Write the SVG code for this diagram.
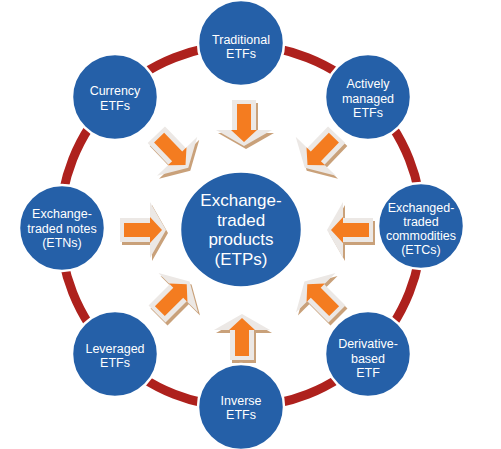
<svg xmlns="http://www.w3.org/2000/svg" xmlns:xlink="http://www.w3.org/1999/xlink" width="501" height="449" viewBox="0 0 501 449">
<style>
.node{fill:#2560A8;stroke:#ffffff;stroke-width:2.5}
.t{fill:#ffffff;font-family:"Liberation Sans",Arial,sans-serif;font-size:12.5px;text-anchor:middle}
.tc{fill:#ffffff;font-family:"Liberation Sans",Arial,sans-serif;font-size:17px;text-anchor:middle}
.ring{fill:none;stroke:#AE211D;stroke-width:9}
</style>
<defs>
<path id="arTan" d="M-24,-12 H6 V-28 L22,0 L6,28 V12 H-24 Z" fill="#C9A17A"/>
<path id="arGrey" d="M-24,-12 H6 V-28 L22,0 L6,28 V12 H-24 Z" fill="#ECE8E5"/>
<path id="arOr" d="M-20,-7 H6 V-13 L18,0 L6,13 V7 H-20 Z" fill="#F47C20"/>
</defs>
<rect width="501" height="449" fill="#ffffff"/>
<g id="connectors">
<circle class="ring" cx="241" cy="226" r="181"/>
<g transform="translate(244,124)"><use xlink:href="#arTan" transform="translate(2,3) rotate(90)"/><use xlink:href="#arGrey" transform="rotate(90)"/><use xlink:href="#arOr" transform="rotate(90)"/></g>
<g transform="translate(242,336)"><use xlink:href="#arTan" transform="translate(2,3) rotate(-90)"/><use xlink:href="#arGrey" transform="rotate(-90)"/><use xlink:href="#arOr" transform="rotate(-90)"/></g>
<g transform="translate(144,230)"><use xlink:href="#arTan" transform="translate(2,3)"/><use xlink:href="#arGrey"/><use xlink:href="#arOr"/></g>
<g transform="translate(349,230)"><use xlink:href="#arTan" transform="translate(2,3) rotate(180)"/><use xlink:href="#arGrey" transform="rotate(180)"/><use xlink:href="#arOr" transform="rotate(180)"/></g>
<g transform="translate(173,152)"><use xlink:href="#arTan" transform="translate(2,3) rotate(46)"/><use xlink:href="#arGrey" transform="rotate(46)"/><use xlink:href="#arOr" transform="rotate(46)"/></g>
<g transform="translate(320,152)"><use xlink:href="#arTan" transform="translate(2,3) rotate(134)"/><use xlink:href="#arGrey" transform="rotate(134)"/><use xlink:href="#arOr" transform="rotate(134)"/></g>
<g transform="translate(174,297)"><use xlink:href="#arTan" transform="translate(2,3) rotate(-45)"/><use xlink:href="#arGrey" transform="rotate(-45)"/><use xlink:href="#arOr" transform="rotate(-45)"/></g>
<g transform="translate(320,297)"><use xlink:href="#arTan" transform="translate(2,3) rotate(-135)"/><use xlink:href="#arGrey" transform="rotate(-135)"/><use xlink:href="#arOr" transform="rotate(-135)"/></g>
</g>
<g id="center">
<ellipse class="node" cx="241" cy="229.5" rx="61" ry="58"/>
<text class="tc" x="241" y="206">Exchange-</text>
<text class="tc" x="241" y="225.5">traded</text>
<text class="tc" x="241" y="245">products</text>
<text class="tc" x="241" y="264.5">(ETPs)</text>
</g>
<g id="traditional">
<circle class="node" cx="241" cy="43" r="43"/>
<text class="t" x="241" y="44">Traditional</text>
<text class="t" x="241" y="57.5">ETFs</text>
</g>
<g id="active">
<circle class="node" cx="368" cy="97" r="43"/>
<text class="t" x="368" y="88">Actively</text>
<text class="t" x="368" y="102.5">managed</text>
<text class="t" x="368" y="117">ETFs</text>
</g>
<g id="etc">
<circle class="node" cx="421" cy="226" r="43"/>
<text class="t" x="421" y="212">Exchanged-</text>
<text class="t" x="421" y="226">traded</text>
<text class="t" x="421" y="240">commodities</text>
<text class="t" x="421" y="254">(ETCs)</text>
</g>
<g id="derivative">
<circle class="node" cx="368" cy="354" r="43"/>
<text class="t" x="368" y="348">Derivative-</text>
<text class="t" x="368" y="362.5">based</text>
<text class="t" x="368" y="377">ETF</text>
</g>
<g id="inverse">
<circle class="node" cx="241" cy="407" r="43"/>
<text class="t" x="241" y="405">Inverse</text>
<text class="t" x="241" y="419">ETFs</text>
</g>
<g id="leveraged">
<circle class="node" cx="115" cy="354" r="43"/>
<text class="t" x="115" y="353">Leveraged</text>
<text class="t" x="115" y="367">ETFs</text>
</g>
<g id="etn">
<circle class="node" cx="62" cy="228" r="43"/>
<text class="t" x="62" y="218">Exchange-</text>
<text class="t" x="62" y="232.5">traded notes</text>
<text class="t" x="62" y="247">(ETNs)</text>
</g>
<g id="currency">
<circle class="node" cx="115" cy="97" r="43"/>
<text class="t" x="115" y="95">Currency</text>
<text class="t" x="115" y="109.5">ETFs</text>
</g>
</svg>
